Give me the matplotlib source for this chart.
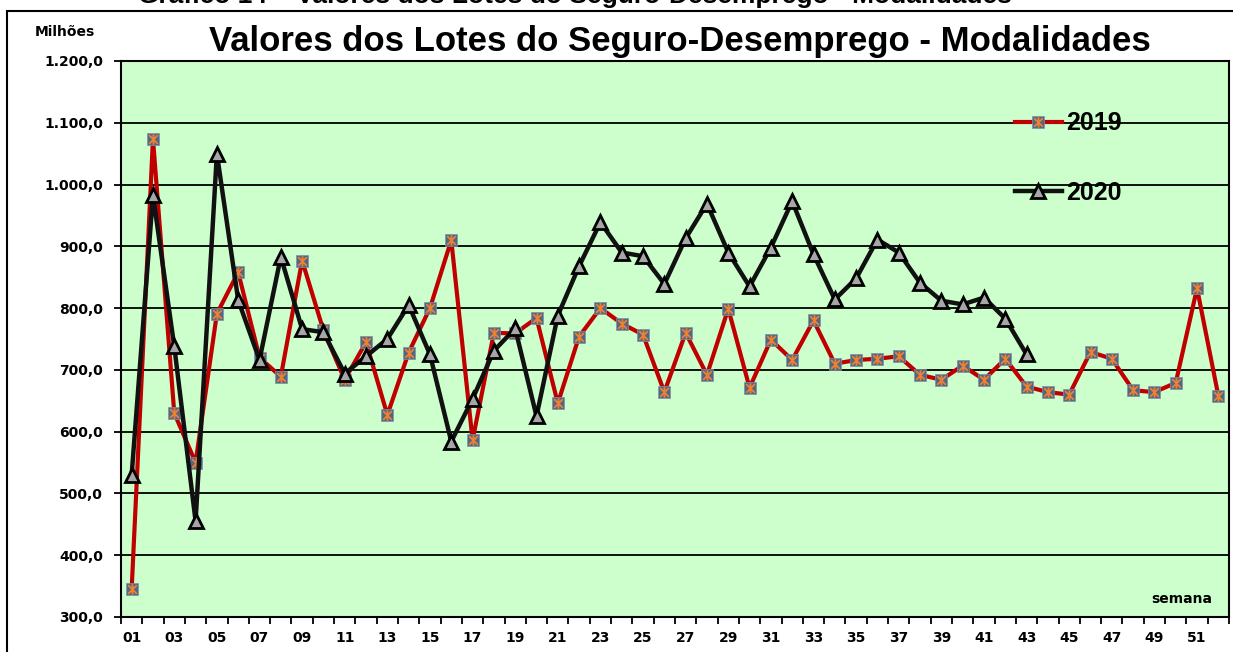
import matplotlib.pyplot as plt
import numpy as np
from matplotlib.path import Path
from matplotlib.patches import Rectangle
from matplotlib.legend_handler import HandlerTuple
from matplotlib.ticker import FuncFormatter

plt.rcParams['font.family'] = ['Liberation Sans', 'DejaVu Sans']
plt.rcParams['font.weight'] = 'bold'

# weekly values, millions
weeks = np.arange(1, 53)
v2019 = [345, 1074, 630, 550, 791, 858, 720, 689, 877, 764,
         684, 745, 627, 728, 800, 910, 586, 760, 759, 784,
         646, 754, 800, 775, 757, 664, 760, 692, 799, 671,
         749, 716, 780, 710, 716, 718, 722, 692, 684, 707,
         684, 718, 673, 664, 660, 729, 718, 667, 664, 679,
         832, 658]
weeks2020 = np.arange(1, 44)
v2020 = [530, 983, 738, 455, 1050, 813, 716, 883, 766, 761,
         694, 722, 750, 805, 725, 584, 653, 731, 767, 625,
         788, 868, 939, 890, 884, 839, 913, 969, 890, 835,
         898, 973, 887, 814, 848, 911, 890, 841, 812, 806,
         817, 783, 725]
yticks = np.arange(300, 1201, 100)
xlabels = [f"{w:02d}" for w in weeks[::2]]

small = {'family': 'DejaVu Sans', 'weight': 'bold', 'size': 10}

fig = plt.figure(figsize=(12.33, 6.52), dpi=100)
W, H = 1233, 652
ax = fig.add_axes([121 / W, 1 - 617 / H, (1229 - 121) / W, (617 - 61) / H])
ax.set_facecolor('#CCFFCC')

# outer frame of the excel chart object
fig.patches.append(Rectangle((7 / W, -0.1), 1.2, 1 - 11 / H + 0.1, transform=fig.transFigure,
                             fill=False, edgecolor='black', linewidth=1.5))

# asterisk marker (x plus vertical bar)
star = Path([(-1, -1), (1, 1), (-1, 1), (1, -1), (0, -1.2), (0, 1.2)],
            [Path.MOVETO, Path.LINETO, Path.MOVETO, Path.LINETO, Path.MOVETO, Path.LINETO])

l19, = ax.plot(weeks, v2019, color='#C00000', lw=3, marker='s', ms=8.5,
               mfc='#506882', mec='#8090a8', mew=0.5, zorder=3)
s19, = ax.plot(weeks, v2019, ls='none', marker=star, ms=7.5, mec='#F08030', mew=1.3, zorder=4)
l20, = ax.plot(weeks2020, v2020, color='#111111', lw=3.2, marker='^', ms=10,
               mfc='#A6A6A6', mec='black', mew=2, zorder=5)

ax.set_xlim(0.5, 52.5)
ax.set_ylim(300, 1200)
ax.set_yticks(yticks)
ax.yaxis.set_major_formatter(FuncFormatter(
    lambda v, p: f"{v:,.1f}".replace(',', '#').replace('.', ',').replace('#', '.')))
ax.grid(axis='y', color='black', lw=1.3, zorder=1)
ax.set_axisbelow(True)
ax.tick_params(axis='y', length=5, width=1.3, pad=8, direction='out')

ax.set_xticks(weeks[::2])
ax.set_xticklabels(xlabels)
ax.set_xticks(np.arange(0.5, 53), minor=True)
ax.tick_params(axis='x', which='major', length=0, pad=10)
ax.tick_params(axis='x', which='minor', length=5, width=1.3, direction='out')
for t in ax.get_xticklabels() + ax.get_yticklabels():
    t.set_fontproperties(small)
for s in ax.spines.values():
    s.set_linewidth(1.5)

ax.text(0.985, 0.02, 'semana', transform=ax.transAxes, ha='right', va='bottom', fontdict=small)
fig.text(65 / W, 1 - 32 / H, 'Milhões', ha='center', va='center', fontdict=small)
fig.text(680 / W, 1 - 42 / H, 'Valores dos Lotes do Seguro-Desemprego - Modalidades',
         ha='center', va='center', fontsize=25, fontweight='bold')
fig.text(575 / W, 1 - 3 / H, 'Gráfico 14 – Valores dos Lotes do Seguro-Desemprego - Modalidades',
         ha='center', va='baseline', fontsize=19, fontweight='bold')

leg = ax.legend([(l19, s19), l20], ['2019', '2020'], handler_map={tuple: HandlerTuple(ndivide=1)},
                loc='upper left', bbox_to_anchor=(1002 / W, 1 - 99 / H), bbox_transform=fig.transFigure,
                frameon=False, prop={'size': 18, 'weight': 'bold'},
                handlelength=1.9, handletextpad=0.15, labelspacing=1.8, borderpad=0)

plt.savefig('out.png', dpi=100)
